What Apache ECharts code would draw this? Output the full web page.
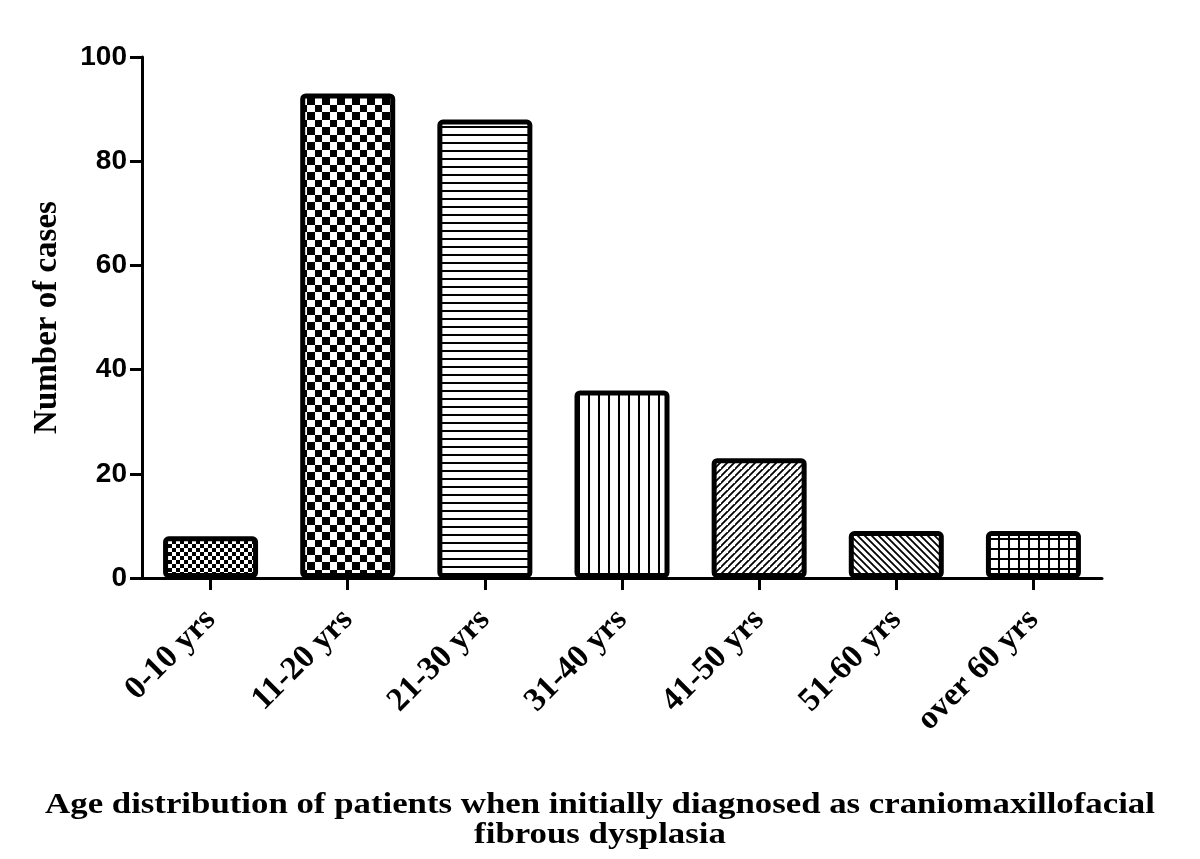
<!DOCTYPE html>
<html>
<head>
<meta charset="utf-8">
<script src="https://cdn.jsdelivr.net/npm/echarts@6/dist/echarts.min.js"></script>
<style>html,body{margin:0;padding:0;background:#fff;}#chart{width:1200px;height:859px;}</style>
</head>
<body>
<div id="chart"></div>
<script>
const categories = ['0-10 yrs', '11-20 yrs', '21-30 yrs', '31-40 yrs', '41-50 yrs', '51-60 yrs', 'over 60 yrs'];
const cases = [8, 93, 88, 36, 23, 9, 9];
const yTicks = [0, 20, 40, 60, 80, 100];
const yAxisTitle = 'Number of cases';
const titleLines = ['Age distribution of patients when initially diagnosed as craniomaxillofacial', 'fibrous dysplasia'];

function makePattern(kind) {
  const c = document.createElement('canvas');
  let s;
  const ctx0 = () => c.getContext('2d');
  if (kind === 'fineChecker') {
    s = 8; c.width = s; c.height = s; const ctx = ctx0();
    ctx.fillStyle = '#fff'; ctx.fillRect(0,0,s,s);
    ctx.fillStyle = '#000'; ctx.fillRect(0,0,4,4); ctx.fillRect(4,4,4,4);
  } else if (kind === 'coarseChecker') {
    s = 15; c.width = s; c.height = s; const ctx = ctx0();
    ctx.fillStyle = '#fff'; ctx.fillRect(0,0,s,s);
    ctx.fillStyle = '#000'; ctx.fillRect(0,0,7,7); ctx.fillRect(7,7,8,8);
  } else if (kind === 'hLines') {
    c.width = 8; c.height = 8; const ctx = ctx0();
    ctx.fillStyle = '#fff'; ctx.fillRect(0,0,8,8);
    ctx.fillStyle = '#000'; ctx.fillRect(0,6,8,2);
  } else if (kind === 'vLines') {
    c.width = 10; c.height = 10; const ctx = ctx0();
    ctx.fillStyle = '#fff'; ctx.fillRect(0,0,10,10);
    ctx.fillStyle = '#000'; ctx.fillRect(8,0,2,10);
  } else if (kind === 'grid') {
    c.width = 10; c.height = 10; const ctx = ctx0();
    ctx.fillStyle = '#fff'; ctx.fillRect(0,0,10,10);
    ctx.fillStyle = '#000'; ctx.fillRect(8,0,2,10); ctx.fillRect(0,8,10,2);
  } else if (kind === 'diagUp' || kind === 'diagDown') {
    s = 7; c.width = s; c.height = s; const ctx = ctx0();
    ctx.fillStyle = '#fff'; ctx.fillRect(0,0,s,s);
    ctx.strokeStyle = '#000'; ctx.lineWidth = 1.8;
    ctx.beginPath();
    if (kind === 'diagUp') {
      ctx.moveTo(-1, s+1); ctx.lineTo(s+1, -1);
      ctx.moveTo(-1-s, s+1); ctx.lineTo(1, -1);
      ctx.moveTo(s-1, 2*s+1); ctx.lineTo(2*s+1, s-1);
    } else {
      ctx.moveTo(-1, -1); ctx.lineTo(s+1, s+1);
      ctx.moveTo(-1-s, -1); ctx.lineTo(1, s+1);
      ctx.moveTo(s-1, -1); ctx.lineTo(2*s+1, s+1);
    }
    ctx.stroke();
  }
  return { image: c, repeat: 'repeat' };
}

const patternKinds = ['fineChecker', 'coarseChecker', 'hLines', 'vLines', 'diagUp', 'diagDown', 'grid'];

const chart = echarts.init(document.getElementById('chart'), null, { renderer: 'canvas' });
const option = {
  backgroundColor: '#fff',
  animation: false,
  grid: { left: 142, right: 98, top: 57, bottom: 281, containLabel: false },
  xAxis: {
    type: 'category',
    data: categories,
    axisLine: { show: true, lineStyle: { color: '#000', width: 3 } },
    axisTick: { show: true, alignWithLabel: true, length: 12, lineStyle: { color: '#000', width: 3 } },
    axisLabel: {
      rotate: 45, margin: 37, color: '#000',
      fontFamily: 'Liberation Serif', fontWeight: 'bold', fontSize: 33
    }
  },
  yAxis: {
    type: 'value', min: 0, max: 100, interval: 20,
    name: yAxisTitle, nameLocation: 'middle', nameRotate: 90, nameGap: 78,
    nameTextStyle: { color: '#000', fontFamily: 'Liberation Serif', fontWeight: 'bold', fontSize: 33 },
    axisLine: { show: true, lineStyle: { color: '#000', width: 3 } },
    axisTick: { show: true, length: 12, lineStyle: { color: '#000', width: 3 } },
    splitLine: { show: false },
    axisLabel: {
      margin: 15, color: '#000', fontFamily: 'Liberation Sans', fontWeight: 'bold', fontSize: 28,
      formatter: v => yTicks.includes(v) ? String(v) : ''
    }
  },
  series: [{
    type: 'bar',
    barWidth: 95,
    data: cases.map((v, i) => ({
      value: v,
      itemStyle: { color: makePattern(patternKinds[i]), borderColor: '#000', borderWidth: 5, borderRadius: 3 }
    }))
  }],
  graphic: [
    { type: 'text', x: 600, y: 806, scaleX: 1.2,
      style: { text: titleLines[0], fill: '#000', font: 'bold 29px "Liberation Serif"', align: 'center', verticalAlign: 'middle' } },
    { type: 'text', x: 600, y: 836, scaleX: 1.2,
      style: { text: titleLines[1], fill: '#000', font: 'bold 29px "Liberation Serif"', align: 'center', verticalAlign: 'middle' } }
  ]
};
chart.setOption(option);
</script>
</body>
</html>
